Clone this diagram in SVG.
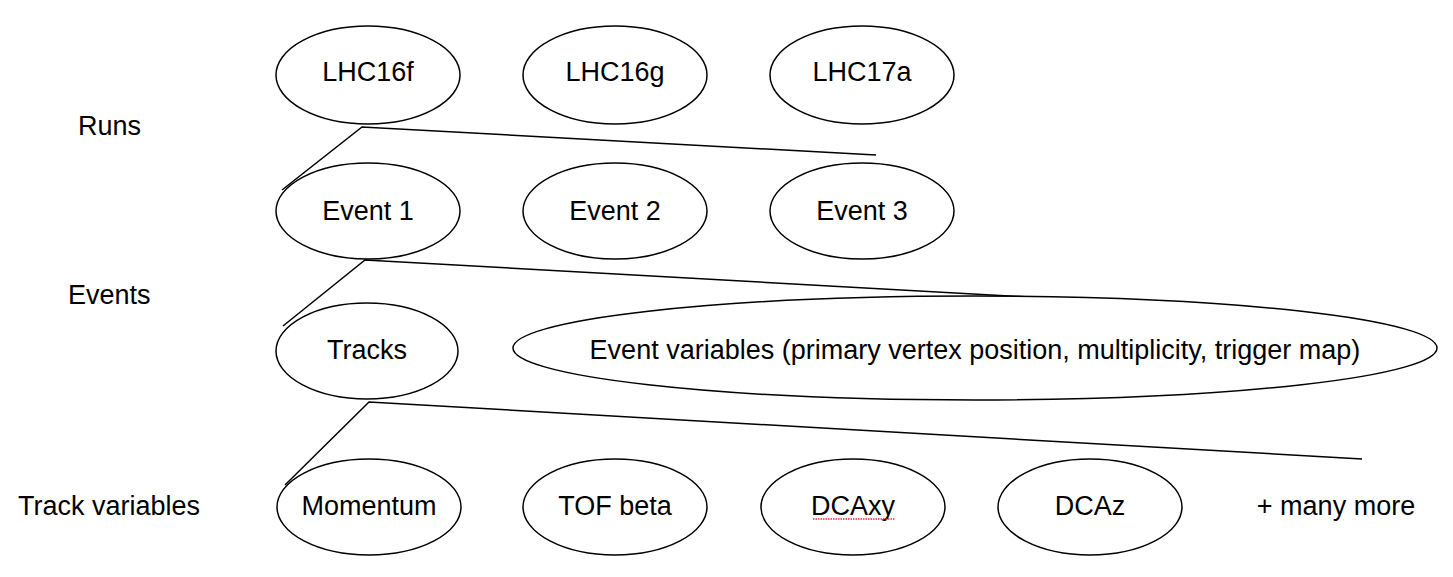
<svg xmlns="http://www.w3.org/2000/svg" width="1453" height="577" viewBox="0 0 1453 577">
<style>
ellipse{fill:#fff;stroke:#000;stroke-width:1.5}
text{font-family:"Liberation Sans",Arial,sans-serif;font-size:27px;fill:#000;text-anchor:middle;dominant-baseline:central}
.lbl{text-anchor:start}
.conn{fill:none;stroke:#000;stroke-width:1.5}
</style>
<rect width="1453" height="577" fill="#fff"/>
<g id="labels">
<text class="lbl" x="78" y="126">Runs</text>
<text class="lbl" x="68" y="295">Events</text>
<text class="lbl" x="18" y="506">Track variables</text>
</g>
<g id="connectors">
<polyline class="conn" points="282,190 362,127 876,155"/>
<polyline class="conn" points="283,326 365,260 1063,299"/>
<polyline class="conn" points="285,485 369,402 1362,459"/>
</g>
<g id="lhc16f"><ellipse cx="368" cy="75" rx="92" ry="49"/><text x="368" y="72">LHC16f</text></g>
<g id="lhc16g"><ellipse cx="615" cy="75" rx="92" ry="49"/><text x="615" y="72">LHC16g</text></g>
<g id="lhc17a"><ellipse cx="862" cy="75" rx="92" ry="49"/><text x="862" y="72">LHC17a</text></g>
<g id="event1"><ellipse cx="368" cy="211" rx="92" ry="48"/><text x="368" y="211">Event 1</text></g>
<g id="event2"><ellipse cx="615" cy="211" rx="92" ry="48"/><text x="615" y="211">Event 2</text></g>
<g id="event3"><ellipse cx="862" cy="211" rx="92" ry="48"/><text x="862" y="211">Event 3</text></g>
<g id="tracks"><ellipse cx="367" cy="351" rx="91" ry="48"/><text x="367" y="350">Tracks</text></g>
<g id="eventvars"><ellipse cx="975" cy="348" rx="462" ry="52"/><text x="975" y="350">Event variables (primary vertex position, multiplicity, trigger map)</text></g>
<g id="momentum"><ellipse cx="369" cy="507" rx="92" ry="48"/><text x="369" y="506">Momentum</text></g>
<g id="tofbeta"><ellipse cx="615" cy="507" rx="92" ry="48"/><text x="615" y="506">TOF beta</text></g>
<g id="dcaxy"><ellipse cx="853" cy="507" rx="92" ry="48"/><text x="853" y="506">DCAxy</text><line x1="813" y1="519" x2="895" y2="519" stroke="#e03030" stroke-width="1.5" stroke-dasharray="1.5,1"/></g>
<g id="dcaz"><ellipse cx="1090" cy="507" rx="92" ry="48"/><text x="1090" y="506">DCAz</text></g>
<g id="more"><text x="1336" y="506">+ many more</text></g>
</svg>
